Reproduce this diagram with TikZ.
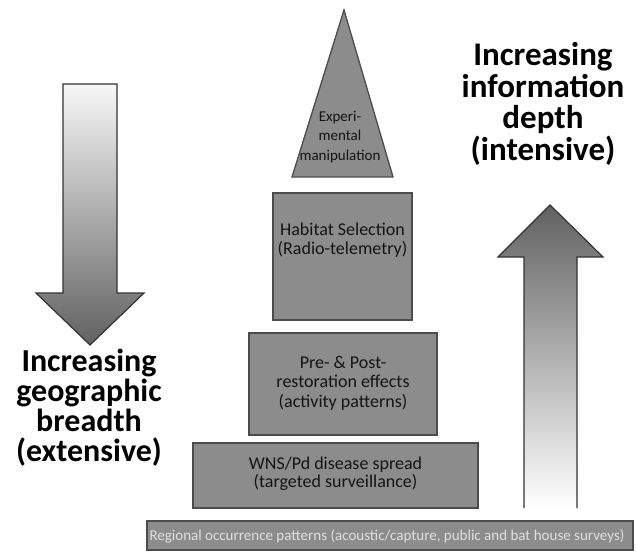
\documentclass[tikz,border=0pt]{standalone}
\usepackage{fontspec}
\setmainfont{Carlito}
\begin{document}
\begin{tikzpicture}[x=1pt,y=-1pt,
  boxst/.style={draw=black!70, line width=1.3pt, fill=black!45, inner sep=0pt},
  boxtext/.style={font=\fontsize{18}{19.5}\selectfont, text=black!92, align=center, inner sep=0pt},
  sidetext/.style={align=center, text=black, inner sep=0pt},
  arrowst/.style={draw=black!80, line width=1.2pt}
]
\useasboundingbox (0,0) rectangle (636,553);
\fill[white] (0,0) rectangle (636,553);

% left arrow (down)
\path[arrowst, top color=black!3, bottom color=black!62]
  (63,84) -- (117,84) -- (117,293) -- (144,293) -- (90,345) -- (36,293) -- (63,293) -- cycle;
% right arrow (up)
\shade[top color=black!62, bottom color=white]
  (524,508) -- (524,257) -- (498,257) -- (550,205) -- (603,257) -- (577,257) -- (577,508) -- cycle;
\draw[arrowst] (524,508) -- (524,257) -- (498,257) -- (550,205) -- (603,257) -- (577,257) -- (577,508);

% side texts
\node[sidetext, font=\fontsize{32}{30}\selectfont\bfseries] (lefttxt) at (89,408) {Increasing\\geographic\\breadth\\(extensive)};
\node[sidetext, font=\fontsize{33}{31.7}\selectfont\bfseries] (righttxt) at (543,104) {Increasing\\information\\depth\\(intensive)};

% triangle
\path[draw=black!70, line width=1.3pt, fill=black!45] (344,10) -- (393,177) -- (292,177) -- cycle;
\node[font=\fontsize{15}{19.5}\selectfont, text=black!92, align=center, inner sep=0pt] (toptxt) at (340,137) {Experi-\\mental\\manipulation};

% boxes
\node[boxst, minimum width=139pt, minimum height=127pt] (hab) at (342.5,256.5) {};
\node[boxtext] (habt) at (342.5,240) {Habitat Selection\\(Radio-telemetry)};

\node[boxst, minimum width=188pt, minimum height=102pt] (pre) at (343,384) {};
\node[boxtext] (pret) at (343,383) {Pre- \& Post-\\restoration effects\\(activity patterns)};

\node[boxst, minimum width=285pt, minimum height=65pt] (wns) at (335.5,475.5) {};
\node[boxtext, font=\fontsize{18}{17.5}\selectfont] (wnst) at (335.5,474) {WNS/Pd disease spread\\(targeted surveillance)};

\node[boxst, minimum width=486pt, minimum height=29pt] (reg) at (390,535.5) {};
\node[font=\fontsize{15}{16}\selectfont, text=black!12, inner sep=0pt] (regt) at (387,536) {Regional occurrence patterns (acoustic/capture, public and bat house surveys)};
\end{tikzpicture}
\end{document}
